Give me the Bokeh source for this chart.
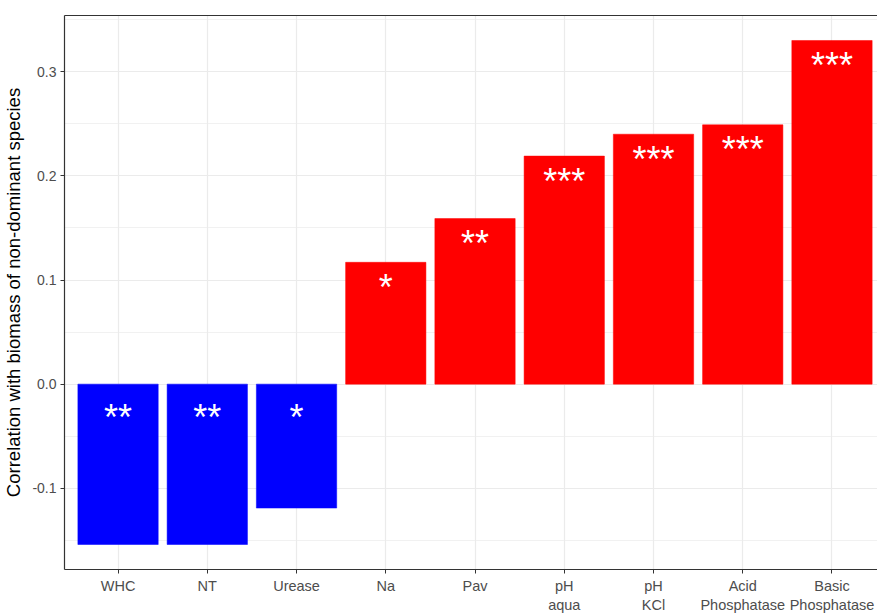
from bokeh.plotting import figure
from bokeh.models import Range1d, FixedTicker, LinearAxis, ColumnDataSource, NumeralTickFormatter
from bokeh.core.properties import value
from bokeh.embed import file_html
from bokeh.resources import INLINE

# ---- data ----
categories = ["WHC", "NT", "Urease", "Na", "Pav", "pH\naqua", "pH\nKCl",
              "Acid\nPhosphatase", "Basic\nPhosphatase"]
correlations = [-0.154, -0.154, -0.119, 0.117, 0.159, 0.219, 0.240, 0.249, 0.330]
significance = ["**", "**", "*", "*", "**", "***", "***", "***", "***"]
y_ticks = [-0.1, 0.0, 0.1, 0.2, 0.3]
y_minor_ticks = [-0.15, -0.05, 0.05, 0.15, 0.25, 0.35]
y_title = "Correlation with biomass of non-dominant species"

# ---- derived ----
xs = list(range(1, len(categories) + 1))
colors = ["#0000FF" if v < 0 else "#FF0000" for v in correlations]
bars = ColumnDataSource(dict(x=xs, top=correlations, color=colors))
pos = [i for i, v in enumerate(correlations) if v >= 0]
neg = [i for i, v in enumerate(correlations) if v < 0]
lab_pos = ColumnDataSource(dict(x=[xs[i] for i in pos], y=[correlations[i] for i in pos],
                                t=[significance[i] for i in pos]))
lab_neg = ColumnDataSource(dict(x=[xs[i] for i in neg], y=[0.0 for i in neg],
                                t=[significance[i] for i in neg]))

FONT = "Liberation Sans"
BORDER = "#333333"

p = figure(width=877, height=615,
           x_range=Range1d(0.4, 9.51), y_range=Range1d(-0.178, 0.354),
           output_backend="svg", toolbar_location=None,
           min_border_left=64, min_border_right=0, min_border_top=15, min_border_bottom=43)
p.outline_line_color = None
p.background_fill_color = "white"
p.border_fill_color = "white"

# grids
p.xgrid.ticker = FixedTicker(ticks=xs)
p.xgrid.grid_line_color = "#EBEBEB"
p.xgrid.grid_line_width = 1.2
p.ygrid.ticker = FixedTicker(ticks=y_ticks, minor_ticks=y_minor_ticks)
p.ygrid.grid_line_color = "#EBEBEB"
p.ygrid.grid_line_width = 1.2
p.ygrid.minor_grid_line_color = "#EBEBEB"
p.ygrid.minor_grid_line_width = 0.7

# bars
p.vbar(x="x", top="top", bottom=0, width=0.9, source=bars,
       fill_color="color", line_color="color", line_width=0.5)

# significance stars
p.text(x="x", y="y", text="t", source=lab_pos, text_color="white",
       text_font=value(FONT), text_font_size="36px", text_align="center",
       text_baseline="alphabetic", y_offset=25)
p.text(x="x", y="y", text="t", source=lab_neg, text_color="white",
       text_font=value(FONT), text_font_size="36px", text_align="center",
       text_baseline="alphabetic", y_offset=33)

# x axis
xa = p.xaxis[0]
xa.ticker = FixedTicker(ticks=xs)
xa.major_label_overrides = {x: c for x, c in zip(xs, categories)}
# y axis
ya = p.yaxis[0]
ya.ticker = FixedTicker(ticks=y_ticks, minor_ticks=[])
ya.formatter = NumeralTickFormatter(format="0.0")
ya.axis_label = y_title
ya.axis_label_text_font = FONT
ya.axis_label_text_font_style = "normal"
ya.axis_label_text_font_size = "18.5px"
ya.axis_label_text_color = "black"
ya.axis_label_standoff = 5

for ax, fs in ((xa, "14.5px"), (ya, "14px")):
    ax.axis_line_color = BORDER
    ax.axis_line_width = 1.2
    ax.major_tick_line_color = BORDER
    ax.major_tick_out = 4
    ax.major_tick_in = 0
    ax.minor_tick_line_color = None
    ax.major_label_text_font = FONT
    ax.major_label_text_font_size = fs
    ax.major_label_text_color = "#4D4D4D"
    ax.major_label_standoff = 4

# top border as a bare axis line
top = LinearAxis(ticker=FixedTicker(ticks=[]), axis_line_color=BORDER, axis_line_width=1.2,
                 major_tick_line_color=None, minor_tick_line_color=None,
                 major_label_text_font_size="0px")
p.add_layout(top, "above")

with open("out.html", "w") as f:
    f.write(file_html(p, INLINE))
